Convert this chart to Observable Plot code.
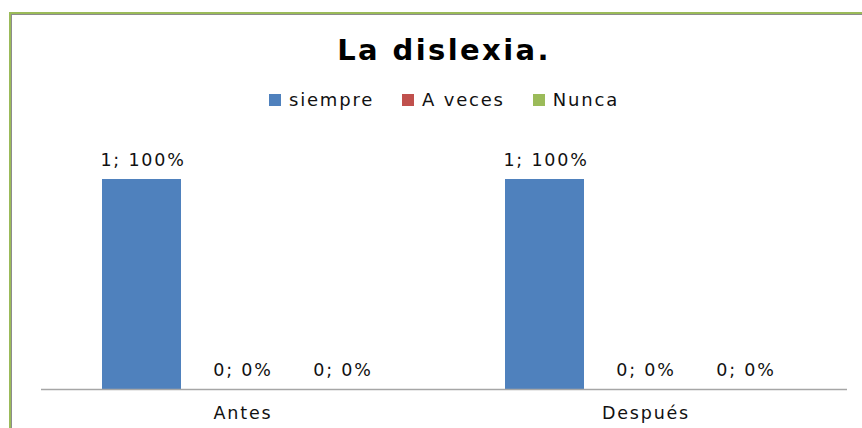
<!DOCTYPE html>
<html>
<head>
<meta charset="utf-8">
<script src="https://cdn.jsdelivr.net/npm/d3@7"></script>
<script src="https://cdn.jsdelivr.net/npm/@observablehq/plot@0.6"></script>
<style>
  html, body { margin: 0; padding: 0; background: #fff; overflow: hidden; }
  body { width: 862px; height: 428px; position: relative; font-family: "DejaVu Sans", sans-serif; }
  #frame { position: absolute; left: 9px; top: 12px; width: 860px; height: 430px;
           border-top: 2px solid #9bbb59; border-left: 2px solid #9bbb59; }
  #inner { border-top: 1px solid #8c8c8c; border-left: 1px solid #8c8c8c; width: 860px; height: 430px; }
  #title { margin-top: 17px; height: 36px; line-height: 36px; font-size: 29px; font-weight: bold;
           letter-spacing: 2.4px; text-align: center; width: 836px; padding-left: 14px; color: #000; }
  #legend { margin-top: 22px; height: 20px; line-height: 20px; font-size: 18px; letter-spacing: 1.8px;
            display: flex; justify-content: center; width: 836px; padding-left: 14px; color: #111; }
  .item { display: flex; align-items: center; margin: 0 14px; }
  .sw { width: 12px; height: 12px; margin-right: 8px; display: inline-block; }
  svg text { letter-spacing: 1.8px; }
</style>
</head>
<body>
<div id="frame"><div id="inner">
  <div id="title">La dislexia.</div>
  <div id="legend"></div>
  <div id="chart"></div>
</div></div>
<script>
const categories = ["Antes", "Después"];
const series = ["siempre", "A veces", "Nunca"];
const siempre = [1, 1];
const aVeces = [0, 0];
const nunca = [0, 0];
const colors = ["#4F81BD", "#C0504D", "#9BBB59"];

const data = categories.flatMap((c, i) => {
  const vals = [siempre[i], aVeces[i], nunca[i]];
  const total = d3.sum(vals);
  return series.map((s, j) => ({category: c, series: s, value: vals[j], pct: total ? vals[j] / total : 0}));
});

const legend = document.getElementById("legend");
series.forEach((s, j) => {
  const it = document.createElement("div");
  it.className = "item";
  it.innerHTML = `<span class="sw" style="background:${colors[j]}"></span><span>${s}</span>`;
  legend.appendChild(it);
});

const chart = Plot.plot({
  width: 850,
  height: 318,
  marginTop: 69,
  marginBottom: 39,
  marginLeft: 28,
  marginRight: 15,
  style: {fontFamily: "DejaVu Sans", fontSize: "17px", color: "#111", background: "transparent"},
  fx: {domain: categories, padding: 0, label: null},
  x: {domain: series, paddingInner: 0.208, paddingOuter: 0.6, axis: null},
  y: {domain: [0, 1], axis: null},
  color: {domain: series, range: colors},
  marks: [
    Plot.barY(data, {fx: "category", x: "series", y: "value", fill: "series", dx: -1}),
    Plot.ruleY([0], {stroke: "#a6a6a6", strokeWidth: 1.5}),
    Plot.text(data, {fx: "category", x: "series", y: "value",
      text: d => `${d.value}; ${Math.round(d.pct * 100)}%`, dy: -19, fill: "#111", fontSize: 17.5}),
    Plot.axisFx({anchor: "bottom", tickSize: 0, tickPadding: 17, label: null, fontSize: 17.5, fill: "#111"})
  ]
});
document.getElementById("chart").appendChild(chart);
</script>
</body>
</html>
